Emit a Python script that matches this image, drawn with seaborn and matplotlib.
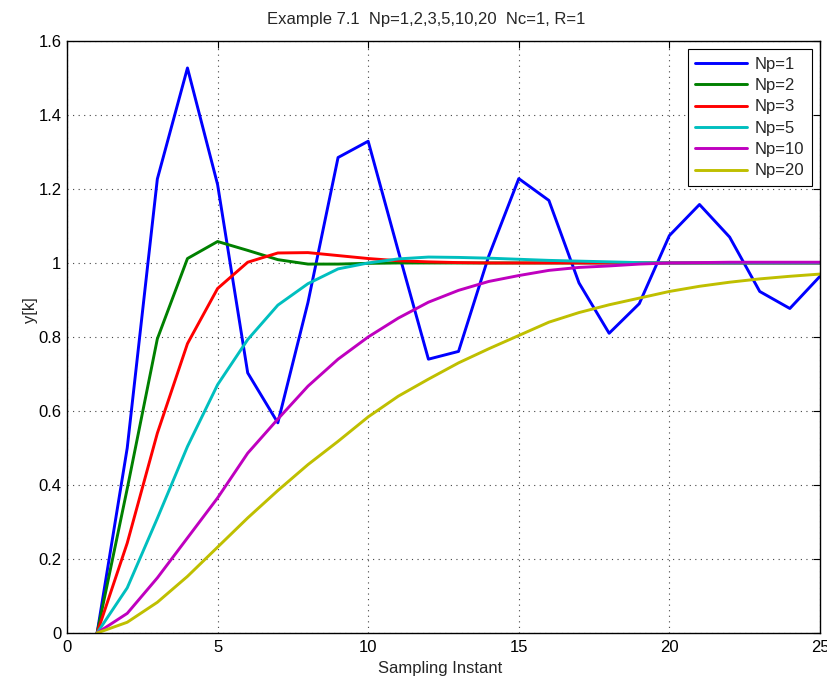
import numpy as np
import pandas as pd
import matplotlib
matplotlib.use("Agg")
import matplotlib.pyplot as plt
from matplotlib.ticker import FuncFormatter
import seaborn as sns

# Sampling instants
k = list(range(1, 26))

# Closed-loop responses for each prediction horizon
y_np1 = [0.0, 0.50, 1.227, 1.527, 1.212, 0.703, 0.568, 0.893, 1.285, 1.329,
         1.032, 0.740, 0.761, 1.018, 1.228, 1.169, 0.946, 0.810, 0.890, 1.074,
         1.158, 1.070, 0.923, 0.877, 0.964]
y_np2 = [0.0, 0.39, 0.795, 1.012, 1.058, 1.034, 1.009, 0.997, 0.997, 0.999,
         1.000, 1.000, 1.000, 1.000, 1.000, 1.000, 1.000, 1.000, 1.000, 1.000,
         1.000, 1.000, 1.000, 1.000, 1.000]
y_np3 = [0.0, 0.243, 0.540, 0.782, 0.931, 1.002, 1.027, 1.028, 1.020, 1.012,
         1.006, 1.003, 1.001, 1.000, 1.000, 1.000, 1.000, 1.000, 1.000, 1.000,
         1.000, 1.000, 1.000, 1.000, 1.000]
y_np5 = [0.0, 0.122, 0.310, 0.504, 0.671, 0.793, 0.886, 0.944, 0.984, 1.000,
         1.011, 1.016, 1.015, 1.013, 1.010, 1.007, 1.005, 1.003, 1.001, 1.000,
         1.000, 1.000, 1.000, 1.000, 1.000]
y_np10 = [0.0, 0.053, 0.149, 0.257, 0.365, 0.486, 0.578, 0.667, 0.740, 0.800,
          0.851, 0.894, 0.926, 0.950, 0.966, 0.980, 0.988, 0.992, 0.997, 1.000,
          1.001, 1.002, 1.002, 1.002, 1.002]
y_np20 = [0.0, 0.029, 0.083, 0.153, 0.232, 0.311, 0.385, 0.455, 0.518, 0.584,
          0.640, 0.686, 0.730, 0.768, 0.804, 0.840, 0.866, 0.887, 0.905, 0.923,
          0.937, 0.948, 0.957, 0.964, 0.970]

labels = ["Np=1", "Np=2", "Np=3", "Np=5", "Np=10", "Np=20"]
series = [y_np1, y_np2, y_np3, y_np5, y_np10, y_np20]
colors = ["#0000ff", "#008000", "#ff0000", "#00bfbf", "#bf00bf", "#bfbf00"]

df = pd.DataFrame({
    "k": np.tile(k, len(labels)),
    "y": np.concatenate(series),
    "Np": np.repeat(labels, len(k)),
})

sns.set_theme(style="white")
plt.rcParams["font.family"] = ["Liberation Sans", "DejaVu Sans"]

fig = plt.figure(figsize=(8.27, 6.77), dpi=100)
ax = fig.add_axes([0.081, 0.065, 0.9105, 0.8745])

sns.lineplot(data=df, x="k", y="y", hue="Np", hue_order=labels,
             palette=dict(zip(labels, colors)), linewidth=2.1, ax=ax,
             legend=True)

ax.set_xlim(0, 25)
ax.set_ylim(0, 1.6)
ax.set_xticks(range(0, 26, 5))
ax.set_yticks(np.arange(0, 1.61, 0.2))
ax.yaxis.set_major_formatter(FuncFormatter(lambda v, p: f"{v:g}"))
ax.xaxis.set_major_formatter(FuncFormatter(lambda v, p: f"{v:g}"))
ax.tick_params(direction="in", length=5, width=0.8, top=True, right=True,
               labelsize=12, colors="black")
ax.tick_params(axis="y", pad=4)
ax.tick_params(axis="x", pad=5)
ax.grid(True, linestyle=(0, (1, 4)), color="#444444", linewidth=0.8)
for s in ax.spines.values():
    s.set_color("black")
    s.set_linewidth(1.0)

ax.set_title("Example 7.1  Np=1,2,3,5,10,20  Nc=1, R=1", fontsize=12,
             x=0.477, pad=12)
ax.set_xlabel("Sampling Instant", fontsize=12, labelpad=4)
ax.xaxis.set_label_coords(0.495, -0.048)
ax.set_ylabel("y[k]", fontsize=12)
ax.yaxis.set_label_coords(-0.038, 0.545)

leg = ax.legend(loc="upper right", fontsize=12, frameon=True, fancybox=False,
                edgecolor="black", framealpha=1, handlelength=3.1,
                handletextpad=0.45, borderaxespad=0.5, labelspacing=0.38,
                borderpad=0.45)
leg.get_frame().set_linewidth(0.8)

fig.savefig("out.png", dpi=100)
